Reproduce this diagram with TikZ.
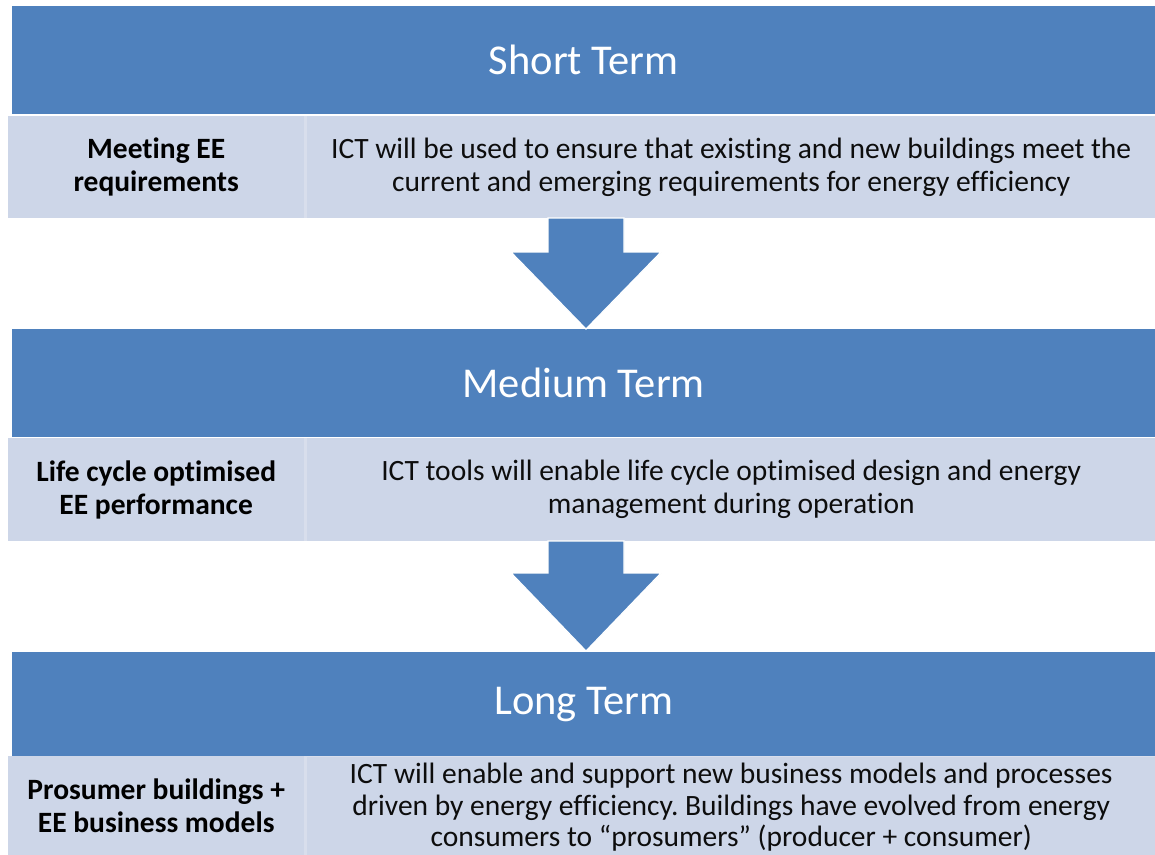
\documentclass[tikz,border=0pt]{standalone}
\usepackage{fontspec}
\setmainfont{Carlito}[Ligatures=NoCommon]
\frenchspacing
\definecolor{hdrblue}{HTML}{4F81BD}
\definecolor{rowback}{HTML}{D8DEEC}
\definecolor{cellback}{HTML}{CDD6E8}
\definecolor{bodyink}{HTML}{0D0D0D}
\tikzset{
  header/.style={fill=hdrblue, text=white, inner sep=0pt, anchor=north west,
    minimum height=108pt, font=\fontsize{42.5}{50}\selectfont},
  rowstrip/.style={fill=rowback, inner sep=0pt, anchor=north west},
  labelcell/.style={fill=cellback, inner sep=0pt, anchor=north west,
    minimum width=296pt, text=black, align=center,
    font=\bfseries\fontsize{29.5}{33}\selectfont},
  textcell/.style={fill=cellback, inner sep=0pt, anchor=north west,
    minimum width=848pt, text=bodyink, align=center,
    font=\fontsize{29.5}{33}\selectfont},
  blockarrow/.style={fill=hdrblue, draw=white, line width=1.2pt, line join=miter}
}
\begin{document}
\begin{tikzpicture}[x=1pt,y=-1pt]
\useasboundingbox (0,0) rectangle (1155,854);
\clip (0,0) rectangle (1155,854);
\fill[white] (0,0) rectangle (1155,854);

% Short term
\node[header, minimum width=1143pt] (h1) at (12,6) {Short Term};
\node[rowstrip, minimum width=1147pt, minimum height=102pt] (r1) at (8,116) {};
\node[labelcell, minimum height=102pt] (l1) at (8,116) {Meeting EE\\requirements};
\node[textcell, minimum height=102pt] (t1) at (307,116) {ICT will be used to ensure that existing and new buildings meet the\\current and emerging requirements for energy efficiency};

% Medium term
\node[header, minimum width=1143pt] (h2) at (12,329) {Medium Term};
\node[rowstrip, minimum width=1147pt, minimum height=103pt] (r2) at (8,438) {};
\node[labelcell, minimum height=103pt] (l2) at (8,438) {Life cycle optimised\\EE performance};
\node[textcell, minimum height=103pt] (t2) at (307,438) {ICT tools will enable life cycle optimised design and energy\\management during operation};

% Long term
\node[header, minimum width=1143pt, minimum height=104pt] (h3) at (12,652) {Long Term};
\node[rowstrip, minimum width=1147pt, minimum height=100pt] (r3) at (8,756) {};
\node[labelcell, minimum height=100pt] (l3) at (8,756) {Prosumer buildings +\\EE business models};
\node[textcell, minimum height=100pt, font=\fontsize{29.5}{31.5}\selectfont] (t3) at (307,757) {ICT will enable and support new business models and processes\\driven by energy efficiency. Buildings have evolved from energy\\consumers to “prosumers” (producer + consumer)};

% Block arrows between the stages
\filldraw[blockarrow] (548,218) -- (624,218) -- (624,252) -- (661,252) -- (586,329)
  -- (511,252) -- (548,252) -- cycle;
\filldraw[blockarrow] (548,541) -- (624,541) -- (624,573) -- (661,573) -- (586,651)
  -- (511,573) -- (548,573) -- cycle;
\end{tikzpicture}
\end{document}
